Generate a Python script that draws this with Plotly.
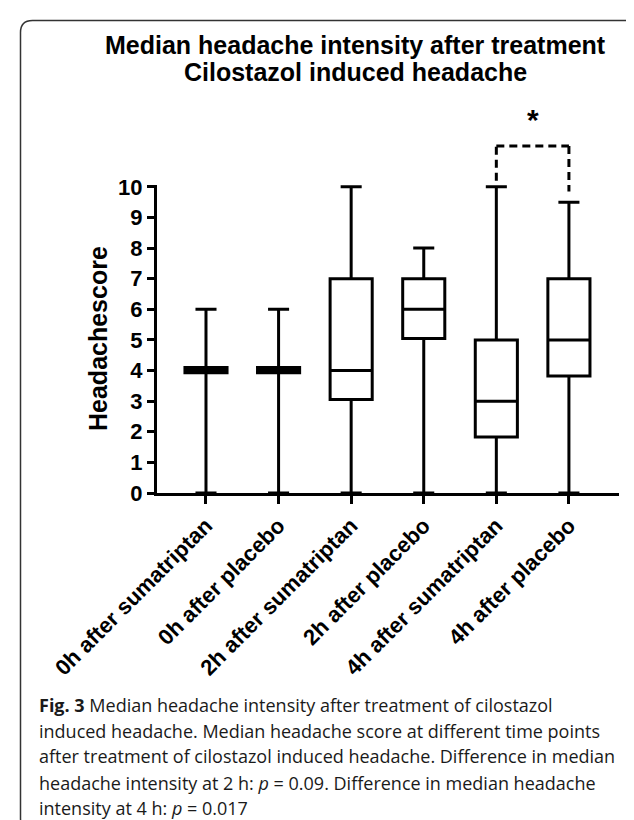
import plotly.graph_objects as go

# ---- data ----
categories = ["0h after sumatriptan", "0h after placebo", "2h after sumatriptan",
              "2h after placebo", "4h after sumatriptan", "4h after placebo"]
lower = [0, 0, 0, 0, 0, 0]
q1 = [3.93, 3.93, 3.05, 5.05, 1.83, 3.82]
median = [4, 4, 4, 6, 3, 5]
q3 = [4.1, 4.1, 7, 7, 5, 7]
upper = [6, 6, 10, 8, 10, 9.5]
y_ticks = list(range(0, 11))
title_lines = ["Median headache intensity after treatment", "Cilostazol induced headache"]
caption_lines = [
    "<b>Fig. 3</b> Median headache intensity after treatment of cilostazol",
    "induced headache. Median headache score at different time points",
    "after treatment of cilostazol induced headache. Difference in median",
    "headache intensity at 2 h: <i>p</i> = 0.09. Difference in median headache",
    "intensity at 4 h: <i>p</i> = 0.017",
]
sig_pair = (4, 5)
sig_label = "*"

# ---- layout geometry ----
W, H = 634, 820
L, R, T, B = 149, 23, 177, 335
PW, PH = W - L - R, H - T - B
YMAX = 10.06


def px2x(px):
    return (px - L) / PW


def py2y(py):
    return (H - B - py) / PH


def v2y(v):
    return v / YMAX


fig = go.Figure()
fig.add_trace(go.Box(
    x=categories, q1=q1, median=median, q3=q3,
    lowerfence=lower, upperfence=upper,
    line=dict(color="black", width=3), fillcolor="white",
    width=0.58, whiskerwidth=0.5, boxpoints=False, hoverinfo="skip",
    showlegend=False,
))

font_bold = "Liberation Sans, Arial, sans-serif"

fig.update_layout(
    width=W, height=H, margin=dict(l=L, r=R, t=T, b=B, pad=0),
    paper_bgcolor="white", plot_bgcolor="white", showlegend=False,
    xaxis=dict(
        type="category", range=[-0.675, 5.69], showgrid=False, zeroline=False,
        showline=True, linecolor="black", linewidth=3,
        ticks="outside", ticklen=8, tickwidth=3, tickcolor="black",
        tickangle=-45,
        tickfont=dict(family=font_bold, size=22, color="black", weight="bold"),
    ),
    yaxis=dict(
        range=[0, YMAX], showgrid=False, zeroline=False,
        showline=True, linecolor="black", linewidth=3,
        ticks="outside", ticklen=7, tickwidth=3, tickcolor="black",
        tickvals=y_ticks, ticktext=[str(t) for t in y_ticks],
        tickfont=dict(family=font_bold, size=22, color="black", weight="bold"),
    ),
)

annotations = []
# title
for i, (line, ypx) in enumerate(zip(title_lines, [37, 64])):
    annotations.append(dict(
        text=f"<b>{line}</b>", xref="paper", yref="paper",
        x=px2x(347), y=py2y(ypx), xanchor="center", yanchor="middle",
        showarrow=False, font=dict(family=font_bold, size=25, color="black"),
    ))
# y axis title
annotations.append(dict(
    text="<b>Headachescore</b>", xref="paper", yref="paper",
    x=px2x(90), y=py2y(331), xanchor="center", yanchor="middle", textangle=-90,
    showarrow=False, font=dict(family=font_bold, size=25, color="black"),
))
# caption
for line, ypx in zip(caption_lines, [697, 723, 748, 775, 800]):
    annotations.append(dict(
        text=line, xref="paper", yref="paper",
        x=px2x(29), y=py2y(ypx), xanchor="left", yanchor="middle",
        showarrow=False, font=dict(family="Open Sans, sans-serif", size=18, color="#1a1a1a"),
    ))

# significance bracket
a, b = sig_pair
top = max(upper[a], upper[b]) + 1.33
left_bottom = upper[a] + 0.2
right_bottom = upper[b] + 0.35
bracket = dict(color="black", width=3, dash="8px,5px")
shapes = [
    dict(type="line", xref="x", yref="paper", x0=a, x1=a, y0=v2y(left_bottom), y1=v2y(top), line=bracket),
    dict(type="line", xref="x", yref="paper", x0=a, x1=b, y0=v2y(top), y1=v2y(top), line=bracket),
    dict(type="line", xref="x", yref="paper", x0=b, x1=b, y0=v2y(top), y1=v2y(right_bottom), line=bracket),
]
annotations.append(dict(
    text=f"<b>{sig_label}</b>", xref="x", yref="paper", x=(a + b) / 2, y=v2y(top + 0.25),
    xanchor="center", yanchor="bottom", showarrow=False,
    font=dict(family=font_bold, size=30, color="black"),
))

# rounded frame around the figure
x0, x1 = px2x(12.5), px2x(635)
y0, y1 = py2y(12.5), py2y(823)
rx, ry = 12 / PW, 12 / PH
frame_path = (
    f"M {x0},{y1 + ry} L {x0},{y0 - ry} Q {x0},{y0} {x0 + rx},{y0} "
    f"L {x1 - rx},{y0} Q {x1},{y0} {x1},{y0 - ry} L {x1},{y1 + ry} "
    f"Q {x1},{y1} {x1 - rx},{y1} L {x0 + rx},{y1} Q {x0},{y1} {x0},{y1 + ry} Z"
)
shapes.append(dict(type="path", xref="paper", yref="paper", path=frame_path,
                   line=dict(color="#333333", width=1.5), layer="below"))

fig.update_layout(annotations=annotations, shapes=shapes)
fig.write_html("out.html")
